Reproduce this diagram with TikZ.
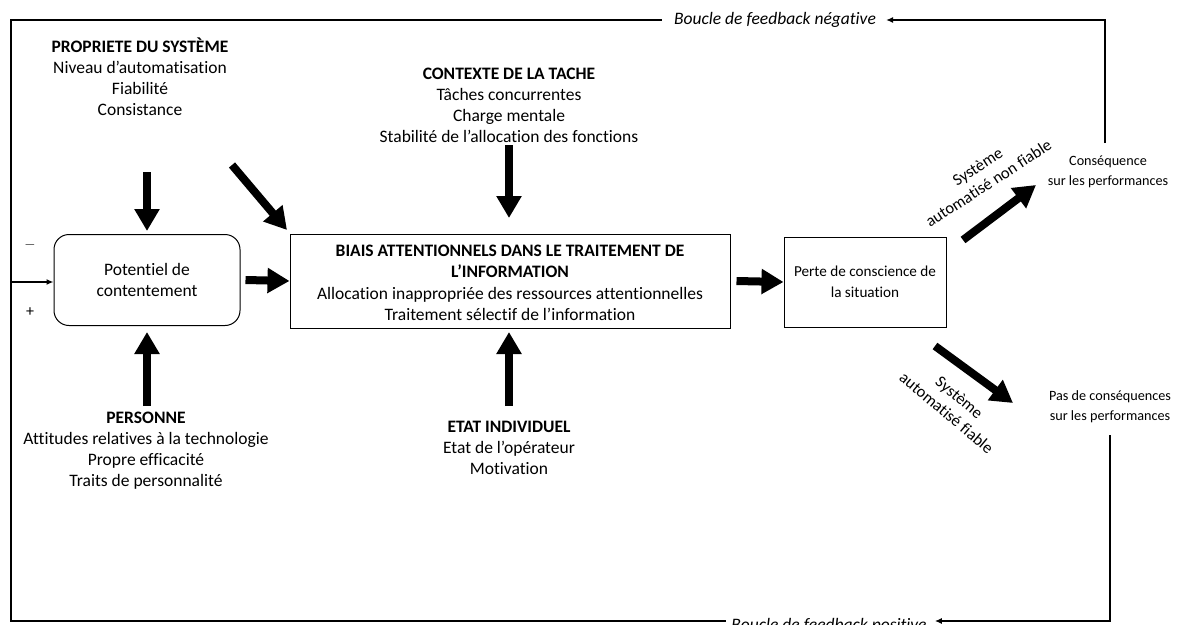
\documentclass[tikz,border=0pt]{standalone}
\usepackage{fontspec}
\setmainfont{Carlito}[Ligatures={NoCommon}]
\usetikzlibrary{arrows.meta}
\begin{document}
\begin{tikzpicture}[x=1pt,y=-1pt,
  txt/.style={align=center,font=\fontsize{17.5}{21}\selectfont,inner sep=0pt},
  smalltxt/.style={align=center,font=\fontsize{14.2}{20}\selectfont,inner sep=0pt},
  looptxt/.style={font=\fontsize{17.5}{20}\selectfont\itshape,inner sep=0pt,anchor=base},
  box/.style={draw,line width=1pt,align=center},
  big/.style={line width=8pt,-{Triangle[length=22pt,width=24pt]}},
  frame/.style={line width=2pt},
  thinarrow/.style={line width=2pt,-{Latex[length=7pt,width=6pt]}}
]
\useasboundingbox (0,0) rectangle (1182,624);
% boxes
\node[box,rounded corners=15pt,minimum width=186pt,minimum height=91pt,font=\fontsize{17.5}{20.5}\selectfont] (pot) at (147,280) {Potentiel de\\contentement};
\node[box,minimum width=440pt,minimum height=94pt,inner sep=0pt] (biais) at (510,281) {};
\node[txt] (biaistxt) at (510,283) {\textbf{BIAIS ATTENTIONNELS DANS LE TRAITEMENT DE}\\\textbf{L’INFORMATION}\\[1.5pt]Allocation inappropriée des ressources attentionnelles\\Traitement sélectif de l’information};
\node[box,minimum width=162pt,minimum height=90pt,font=\fontsize{15.2}{20.5}\selectfont] (perte) at (865,282) {Perte de conscience de\\la situation};
% text groups
\node[txt] (prop) at (140,77) {\textbf{PROPRIETE DU SYSTÈME}\\Niveau d’automatisation\\Fiabilité\\Consistance};
\node[txt] (ctx) at (509,105) {\textbf{CONTEXTE DE LA TACHE}\\Tâches concurrentes\\Charge mentale\\Stabilité de l’allocation des fonctions};
\node[txt] (pers) at (146,451) {\textbf{PERSONNE}\\Attitudes relatives à la technologie\\Propre efficacité\\Traits de personnalité};
\node[txt] (etat) at (509,448) {\textbf{ETAT INDIVIDUEL}\\Etat de l’opérateur\\Motivation};
\node[smalltxt] (cons) at (1108,172) {Conséquence\\sur les performances};
\node[smalltxt] (pas) at (1110,407) {Pas de conséquences\\sur les performances};
\node[txt,font=\fontsize{16.5}{20}\selectfont,rotate=33] (nfl) at (983,175) {Système\\automatisé non fiable};
\node[txt,font=\fontsize{16.5}{20}\selectfont,rotate=-40] (fl) at (953,405) {Système\\automatisé fiable};
\node[txt,font=\fontsize{15}{18}\selectfont] (minus) at (30,245) {$-$};
\node[txt,font=\fontsize{16}{18}\selectfont] (plus) at (30,312) {+};
% big arrows
\coordinate (a1s) at (147,172); \coordinate (a1e) at (147,231);
\coordinate (a2s) at (232,165); \coordinate (a2e) at (287,230);
\coordinate (a3s) at (509,145); \coordinate (a3e) at (509,218);
\coordinate (a4s) at (147,406); \coordinate (a4e) at (147,332);
\coordinate (a5s) at (509,406); \coordinate (a5e) at (509,332);
\coordinate (a6s) at (963,240); \coordinate (a6e) at (1036,185);
\coordinate (a7s) at (935,346); \coordinate (a7e) at (1013,403);
\draw[big] (a1s) -- (a1e);
\draw[big] (a2s) -- (a2e);
\draw[big] (a3s) -- (a3e);
\draw[big] (a4s) -- (a4e);
\draw[big] (a5s) -- (a5e);
\draw[big] (a6s) -- (a6e);
\draw[big] (a7s) -- (a7e);
\draw[big] ([xshift=5pt]pot.east) -- (biais.west);
\draw[big] ([xshift=6pt]biais.east) -- (perte.west);
% feedback loops
\node[looptxt] (neg) at (775,24) {Boucle de feedback négative};
\node[looptxt] (pos) at (829,630) {Boucle de feedback positive};
\coordinate (consTop) at (1105,143);
\coordinate (tr) at (1105,20);
\coordinate (tl) at (11,20);
\coordinate (bl) at (11,621);
\coordinate (br) at (1110,621);
\coordinate (pasBot) at (1110,435);
\coordinate (lin) at (11,282);
\draw[thinarrow] (consTop) -- (tr) -- ([xshift=10pt]tr -| neg.east);
\draw[frame] ([xshift=-12pt]tl -| neg.west) -- (tl) -- (bl) -- ([xshift=-5pt]bl -| pos.west);
\draw[thinarrow] (pasBot) -- (br) -- ([xshift=8pt]br -| pos.east);
\draw[thinarrow] (lin) -- (pot.west |- lin);
\end{tikzpicture}
\end{document}
